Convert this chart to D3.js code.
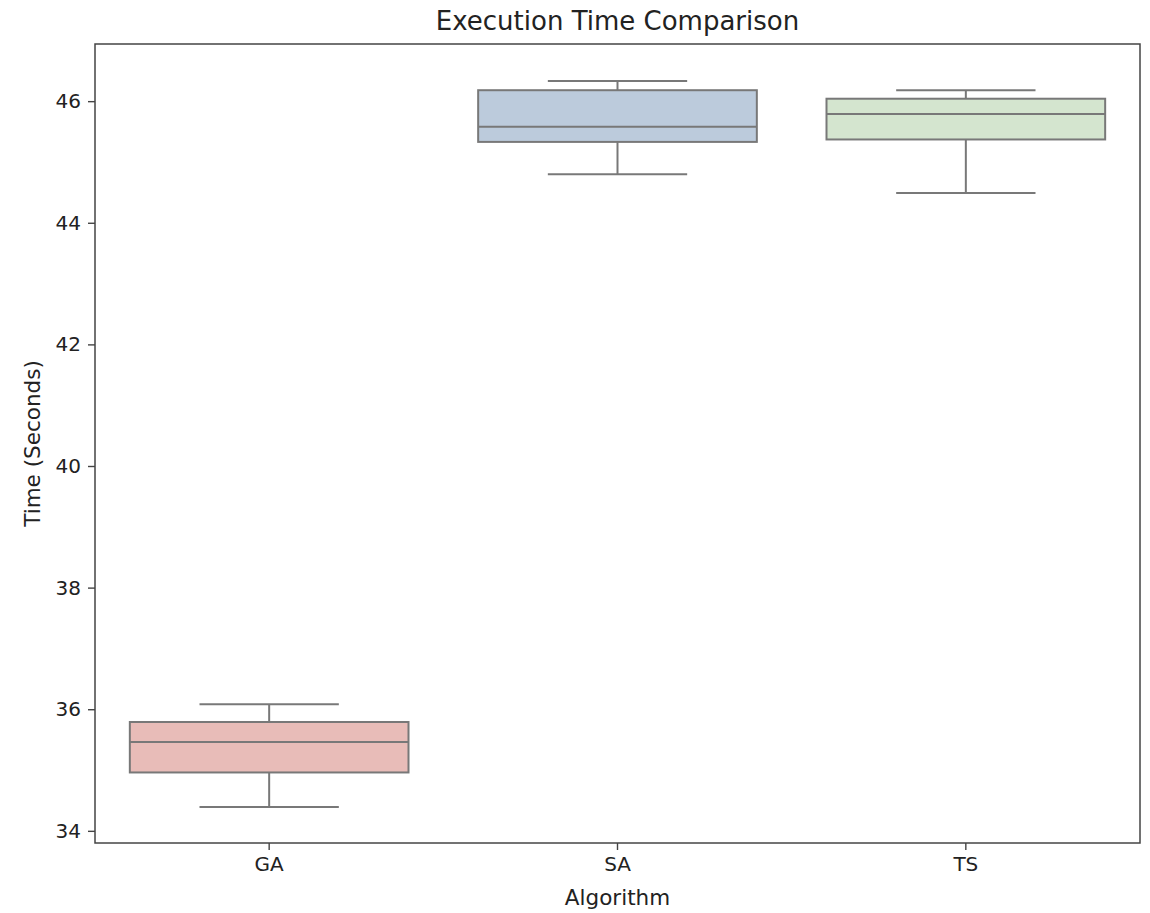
<!DOCTYPE html>
<html>
<head>
<meta charset="utf-8">
<script src="https://cdn.jsdelivr.net/npm/d3@7"></script>
<style>
  body { margin: 0; background: #fff; }
</style>
</head>
<body>
<div id="chart"></div>
<script>
  const FONT = "'DejaVu Sans', sans-serif";

  // Data (seconds)
  const algorithms = ["GA", "SA", "TS"];
  const whiskerLow = [34.39, 44.80, 44.49];
  const q1 = [34.96, 45.33, 45.37];
  const medians = [35.46, 45.58, 45.79];
  const q3 = [35.79, 46.18, 46.04];
  const whiskerHigh = [36.08, 46.33, 46.18];
  const fills = ["#e8bcb8", "#bccbdc", "#d4e5cf"];
  const yTicks = [34, 36, 38, 40, 42, 44, 46];

  var W = 1150, H = 913;
  var M = { top: 44, right: 10, bottom: 70, left: 95 };
  var width = W - M.left - M.right;
  var height = H - M.top - M.bottom;
  var EDGE = "#787878";

  var svg = d3.select("#chart").append("svg")
    .attr("width", W).attr("height", H)
    .style("display", "block");

  var g = svg.append("g").attr("transform", "translate(" + M.left + "," + M.top + ")");

  var x = d3.scaleBand().domain(algorithms).range([0, width]).padding(0);
  var y = d3.scaleLinear().domain([33.80, 46.94]).range([height, 0]);

  // Boxes
  algorithms.forEach(function (a, i) {
    var cx = x(a) + x.bandwidth() / 2;
    var bw = x.bandwidth() * 0.8;
    var capW = bw / 2;

    // whiskers
    g.append("line")
      .attr("x1", cx).attr("x2", cx)
      .attr("y1", y(q3[i])).attr("y2", y(whiskerHigh[i]))
      .attr("stroke", EDGE).attr("stroke-width", 2);
    g.append("line")
      .attr("x1", cx).attr("x2", cx)
      .attr("y1", y(q1[i])).attr("y2", y(whiskerLow[i]))
      .attr("stroke", EDGE).attr("stroke-width", 2);
    [whiskerHigh[i], whiskerLow[i]].forEach(function (v) {
      g.append("line")
        .attr("x1", cx - capW / 2).attr("x2", cx + capW / 2)
        .attr("y1", y(v)).attr("y2", y(v))
        .attr("stroke", EDGE).attr("stroke-width", 2);
    });

    // box
    g.append("rect")
      .attr("x", cx - bw / 2).attr("y", y(q3[i]))
      .attr("width", bw).attr("height", y(q1[i]) - y(q3[i]))
      .attr("fill", fills[i])
      .attr("stroke", EDGE).attr("stroke-width", 2);

    // median
    g.append("line")
      .attr("x1", cx - bw / 2).attr("x2", cx + bw / 2)
      .attr("y1", y(medians[i])).attr("y2", y(medians[i]))
      .attr("stroke", EDGE).attr("stroke-width", 2);
  });

  // Axes
  var yAxis = g.append("g")
    .call(d3.axisLeft(y).tickValues(yTicks).tickSize(7).tickPadding(7).tickFormat(d3.format("d")));
  var xAxis = g.append("g").attr("transform", "translate(0," + height + ")")
    .call(d3.axisBottom(x).tickSize(7).tickPadding(7));

  [yAxis, xAxis].forEach(function (ax) {
    ax.select(".domain").remove();
    ax.selectAll(".tick line").attr("stroke", "#444").attr("stroke-width", 1.4);
    ax.selectAll(".tick text").attr("fill", "#222")
      .attr("font-size", "20px").attr("font-family", FONT);
  });

  // Frame (spines)
  g.append("rect")
    .attr("x", 0).attr("y", 0)
    .attr("width", width).attr("height", height)
    .attr("fill", "none").attr("stroke", "#444").attr("stroke-width", 1.5);

  // Title and labels
  svg.append("text")
    .attr("x", M.left + width / 2).attr("y", 30)
    .attr("text-anchor", "middle")
    .attr("fill", "#222").attr("font-size", "26px").attr("font-family", FONT)
    .text("Execution Time Comparison");

  svg.append("text")
    .attr("x", M.left + width / 2).attr("y", 905)
    .attr("text-anchor", "middle")
    .attr("fill", "#222").attr("font-size", "21.5px").attr("font-family", FONT)
    .text("Algorithm");

  svg.append("text")
    .attr("transform", "translate(40," + (M.top + height / 2) + ") rotate(-90)")
    .attr("text-anchor", "middle")
    .attr("fill", "#222").attr("font-size", "21.5px").attr("font-family", FONT)
    .text("Time (Seconds)");
</script>
</body>
</html>
